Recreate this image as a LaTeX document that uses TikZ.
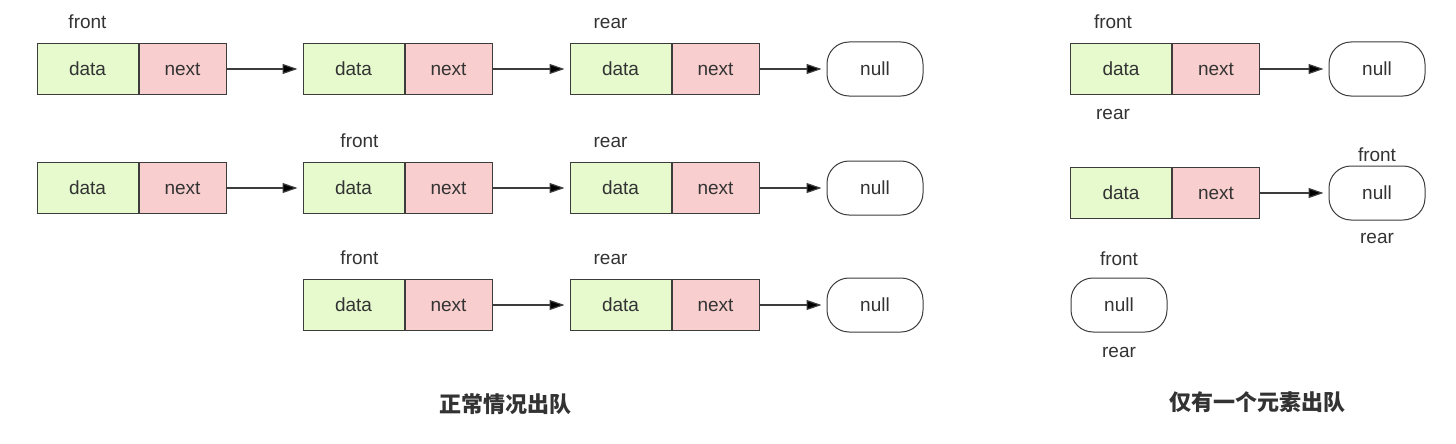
\documentclass[tikz,border=0pt]{standalone}
\usepackage{fontspec}
\setmainfont{Liberation Sans}
\newfontfamily\cjk{Noto Sans CJK SC}
\usetikzlibrary{positioning,arrows.meta}

\definecolor{datagreen}{RGB}{230,250,206}
\definecolor{nextpink}{RGB}{248,206,206}
\definecolor{linegray}{RGB}{60,60,60}
\definecolor{textgray}{RGB}{51,51,51}

\begin{document}
\begin{tikzpicture}[x=1pt,y=-1pt,node distance=0pt,text=textgray,
    font=\fontsize{19}{22}\selectfont,
    field/.style={draw=linegray,line width=1pt,minimum height=51pt,inner sep=0pt},
    datafield/.style={field,fill=datagreen,minimum width=101pt},
    nextfield/.style={field,fill=nextpink,minimum width=87pt},
    nullnode/.style={draw=linegray,line width=1pt,rounded corners=22pt,minimum width=96pt,minimum height=54pt,inner sep=0pt},
    ptr/.style={-{Triangle[length=15pt,width=10pt]},draw=linegray,line width=1.2pt,shorten >=5pt},
    lbl/.style={inner sep=0pt},
    caption/.style={font=\cjk\bfseries\fontsize{22}{26}\selectfont}]
    \useasboundingbox (0,0) rectangle (1456,444);

    % normal dequeue, before
    \node[datafield] (d11) at (87.5,69) {data};
    \node[nextfield] (n11) [right=of d11] {next};
    \node[datafield] (d12) at (353.5,69) {data};
    \node[nextfield] (n12) [right=of d12] {next};
    \node[datafield] (d13) at (620.5,69) {data};
    \node[nextfield] (n13) [right=of d13] {next};
    \node[nullnode]  (z1)  at (875,69) {null};
    \node[lbl] (f1) [above=14pt of d11] {front};
    \node[lbl] (r1) [above=14pt of d13,xshift=-10pt] {rear};

    % normal dequeue, after
    \node[datafield] (d21) at (87.5,188) {data};
    \node[nextfield] (n21) [right=of d21] {next};
    \node[datafield] (d22) at (353.5,188) {data};
    \node[nextfield] (n22) [right=of d22] {next};
    \node[datafield] (d23) at (620.5,188) {data};
    \node[nextfield] (n23) [right=of d23] {next};
    \node[nullnode]  (z2)  at (875,188) {null};
    \node[lbl] (f2) [above=14pt of d22,xshift=6pt] {front};
    \node[lbl] (r2) [above=14pt of d23,xshift=-10pt] {rear};

    % normal dequeue, result
    \node[datafield] (d32) at (353.5,305) {data};
    \node[nextfield] (n32) [right=of d32] {next};
    \node[datafield] (d33) at (620.5,305) {data};
    \node[nextfield] (n33) [right=of d33] {next};
    \node[nullnode]  (z3)  at (875,305) {null};
    \node[lbl] (f3) [above=14pt of d32,xshift=6pt] {front};
    \node[lbl] (r3) [above=14pt of d33,xshift=-10pt] {rear};

    \path[ptr] (n11) edge (d12)
               (n12) edge (d13)
               (n13) edge (z1)
               (n21) edge (d22)
               (n22) edge (d23)
               (n23) edge (z2)
               (n32) edge (d33)
               (n33) edge (z3);

    % single element dequeue
    \node[datafield] (s1) at (1121,69) {data};
    \node[nextfield] (m1) [right=of s1] {next};
    \node[nullnode]  (y1) at (1377,69) {null};
    \node[lbl] (sf1) [above=14pt of s1,xshift=-8pt] {front};
    \node[lbl] (sr1) [below=14pt of s1,xshift=-8pt] {rear};

    \node[datafield] (s2) at (1121,193) {data};
    \node[nextfield] (m2) [right=of s2] {next};
    \node[nullnode]  (y2) at (1377,193) {null};
    \node[lbl] (sf2) [above=4pt of y2] {front};
    \node[lbl] (sr2) [below=13pt of y2] {rear};

    \node[nullnode]  (y3) at (1119,305) {null};
    \node[lbl] (sf3) [above=12pt of y3] {front};
    \node[lbl] (sr3) [below=15pt of y3] {rear};

    \path[ptr] (m1) edge (y1)
               (m2) edge (y2);

    \node[caption] (c1) at (505,404) {正常情况出队};
    \node[caption] (c2) at (1257,402) {仅有一个元素出队};
\end{tikzpicture}
\end{document}
